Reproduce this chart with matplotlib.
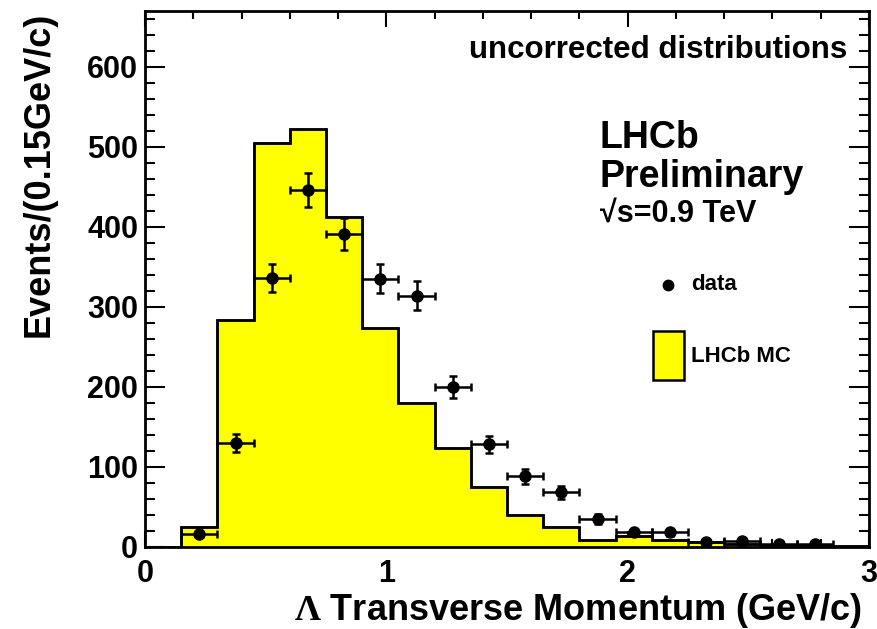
import matplotlib
matplotlib.use("Agg")
import matplotlib.pyplot as plt
from matplotlib.lines import Line2D
from matplotlib.patches import Rectangle
from matplotlib.ticker import MultipleLocator
import numpy as np

plt.rcParams["font.family"] = ["Liberation Sans", "DejaVu Sans"]
plt.rcParams["font.weight"] = "bold"
plt.rcParams["mathtext.fontset"] = "custom"
plt.rcParams["mathtext.rm"] = "Liberation Serif"
plt.rcParams["mathtext.it"] = "Liberation Serif"

# pT binning: 0.15 GeV/c bins from 0 to 3
bin_lo = 0.0
bin_hi = 3.0
n_bins = 20

# LHCb MC expectation per bin
mc_counts = [0, 25, 283, 505, 522, 412, 273, 180, 123, 75,
             40, 25, 9, 13, 9, 6, 4, 2, 1, 1]

# data, starting from the second bin
data_counts = [16, 130, 336, 446, 391, 335, 314, 200, 128, 88,
               68, 35, 18, 18, 6, 7, 4, 3]
data_err = [4, 11, 18, 21, 20, 18, 18, 14, 11, 9,
            8, 6, 4, 4, 2.5, 2.6, 2, 1.7]

edges = np.linspace(bin_lo, bin_hi, n_bins + 1)
width = edges[1] - edges[0]
centers = 0.5 * (edges[:-1] + edges[1:])
data_x = centers[1:1 + len(data_counts)]

W, H = 877, 629
fig = plt.figure(figsize=(W / 100, H / 100), dpi=100)
ax = fig.add_axes([145 / W, 1 - 546.7 / H, (869 - 145) / W, (546.7 - 11) / H])

ax.stairs(mc_counts, edges, fill=True, facecolor="#ffff00",
          edgecolor="black", linewidth=1.8, zorder=2)
ax.stairs(mc_counts, edges, fill=False, color="black", linewidth=1.8, zorder=3)

ax.errorbar(data_x, data_counts, yerr=data_err, xerr=width / 2,
            fmt="o", color="black", markersize=8, elinewidth=1.8,
            capsize=3, capthick=1.8, zorder=4)

ax.set_xlim(0, 3)
ax.set_ylim(0, 670)

ax.xaxis.set_major_locator(MultipleLocator(1))
ax.xaxis.set_minor_locator(MultipleLocator(0.2))
ax.yaxis.set_major_locator(MultipleLocator(100))
ax.yaxis.set_minor_locator(MultipleLocator(20))
ax.tick_params(which="both", direction="in", top=True, right=True,
               width=1.5, labelsize=22)
ax.tick_params(axis="x", which="major", length=11.5, pad=9)
ax.tick_params(axis="x", which="minor", length=5.8)
ax.tick_params(axis="y", which="major", length=14.4, pad=5)
ax.tick_params(axis="y", which="minor", length=7.2)
for lab in ax.get_xticklabels() + ax.get_yticklabels():
    lab.set_fontweight("bold")
for s in ax.spines.values():
    s.set_linewidth(2)


def fx(px):
    return px / W


def fy(py):
    return 1 - py / H


fig.text(fx(862), fy(620), r"$\mathrm{\Lambda}$ Transverse Momentum (GeV/c)",
         ha="right", va="baseline", fontsize=26, fontweight="bold")
fig.text(fx(39), fy(12), "Events/(0.15GeV/c)", rotation=90,
         ha="center", va="top", fontsize=26, fontweight="bold")

fig.text(fx(847), fy(58), "uncorrected distributions", ha="right",
         va="baseline", fontsize=22.5, fontweight="bold")
fig.text(fx(600), fy(148), "LHCb", ha="left", va="baseline",
         fontsize=27, fontweight="bold")
fig.text(fx(600), fy(187), "Preliminary", ha="left", va="baseline",
         fontsize=27, fontweight="bold")
fig.text(fx(600), fy(222), "\u221as=0.9 TeV", ha="left", va="baseline",
         fontsize=22, fontweight="bold")

# legend
fig.add_artist(Line2D([fx(668)], [fy(285)], marker="o", color="black",
                      markersize=7.5, transform=fig.transFigure))
fig.text(fx(691), fy(285), "data", ha="left", va="center",
         fontsize=16, fontweight="bold")
fig.add_artist(Rectangle((fx(653), fy(380)), fx(684) - fx(653),
                         fy(331) - fy(380), facecolor="#ffff00",
                         edgecolor="black", linewidth=1.8,
                         transform=fig.transFigure))
fig.text(fx(691), fy(357), "LHCb MC", ha="left", va="center",
         fontsize=16, fontweight="bold")

fig.savefig("out.png", dpi=100)
